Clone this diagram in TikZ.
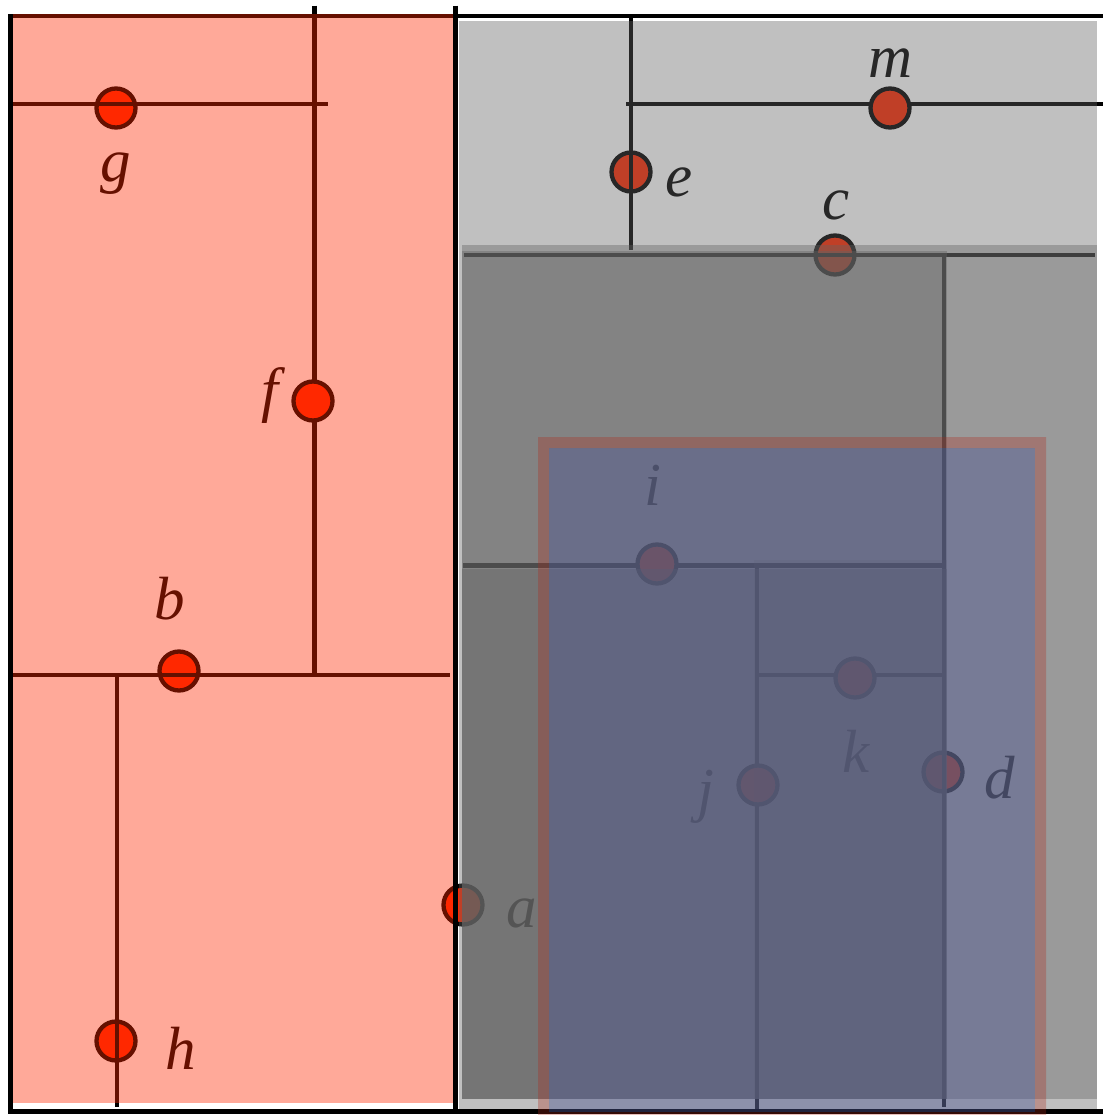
\documentclass[tikz,border=0pt]{standalone}
\usepackage{fontspec}
\setmainfont{Liberation Serif}
\definecolor{ptred}{RGB}{255,40,0}
\definecolor{regred}{RGB}{255,40,0}
\definecolor{reggray}{RGB}{98,98,98}
\definecolor{qblue}{RGB}{75,84,145}
\definecolor{qred}{RGB}{175,40,25}
\begin{document}
\begin{tikzpicture}[x=1pt,y=-1pt,
  pt/.style={circle,draw=black,fill=ptred,line width=4.3pt,minimum size=39pt,inner sep=0pt},
  split/.style={line width=4.6pt,black},
  framel/.style={line width=4.4pt,black},
  lbl/.style={anchor=base,inner sep=0pt,font=\fontsize{61}{61}\selectfont\itshape,text=black},
  redreg/.style={fill=regred,fill opacity=0.4},
  grayreg/.style={fill=reggray,fill opacity=0.4}]
\useasboundingbox (0,0) rectangle (1102,1115);
\fill[white] (0,0) rectangle (1102,1115);
% points drawn beneath their split lines
\node[pt] (g) at (116,108) {};
\node[pt] (b) at (179,671) {};
\node[pt] (h) at (116,1041) {};
\node[pt] (e) at (631,172) {};
\node[pt] (c) at (835,255) {};
\node[pt] (a) at (463,905) {};
\node[pt] (d) at (943,772) {};
% split lines
\draw[split] (12,104) -- (328,104);
\draw[split] (314.5,5.7) -- (314.5,675);
\draw[split] (12,675) -- (450,675);
\draw[split] (117,675) -- (117,1107);
\draw[split] (631,18) -- (631,250);
\draw[split] (626,104) -- (1106,104);
\draw[split] (464,255) -- (1095,255);
\draw[split] (944,255) -- (944,1107);
\draw[split] (463,565.5) -- (944,565.5);
\draw[split] (757,565) -- (757,1109);
\draw[split] (757,675) -- (944,675);
\draw[framel] (455.3,5.7) -- (455.3,1111.5);
\draw[framel] (1110,16.3) -- (10.5,16.3) -- (10.5,1111.5) -- (1110,1111.5);
% points drawn above lines
\node[pt] (f) at (313,401) {};
\node[pt] (m) at (890,108) {};
\node[pt] (i) at (657,564) {};
\node[pt] (j) at (758,785) {};
\node[pt] (k) at (855,678) {};
% labels
\node[lbl] (lg) at (116,182) {g};
\node[lbl] (lf) at (270,410) {f};
\node[lbl] (lb) at (170,619) {b};
\node[lbl] (lh) at (181,1069) {h};
\node[lbl] (la) at (522,927) {a};
\node[lbl] (le) at (679,197) {e};
\node[lbl] (lm) at (891,78) {m};
\node[lbl] (lc) at (836,220) {c};
\node[lbl] (li) at (653,505) {i};
\node[lbl] (lk) at (856,772) {k};
\node[lbl] (lj) at (706,810) {j};
\node[lbl] (ld) at (1000,798) {d};
% region overlays
\fill[redreg] (12.7,14) rectangle (453.3,1103);
\fill[grayreg] (459,21) rectangle (1097,1109);
\fill[grayreg] (462,245) rectangle (1097,1099);
\fill[grayreg] (462,251) rectangle (947,1099);
\fill[grayreg] (462,569) rectangle (947,1099);
\fill[grayreg,fill opacity=0.18] (754,560) rectangle (947,1099);
% query rectangle
\fill[qred,fill opacity=0.3,even odd rule] (538,437) rectangle (1046,1123) (549,448) rectangle (1035,1112);
\fill[qblue,fill opacity=0.43] (549,448) rectangle (1035,1112);
\end{tikzpicture}
\end{document}
